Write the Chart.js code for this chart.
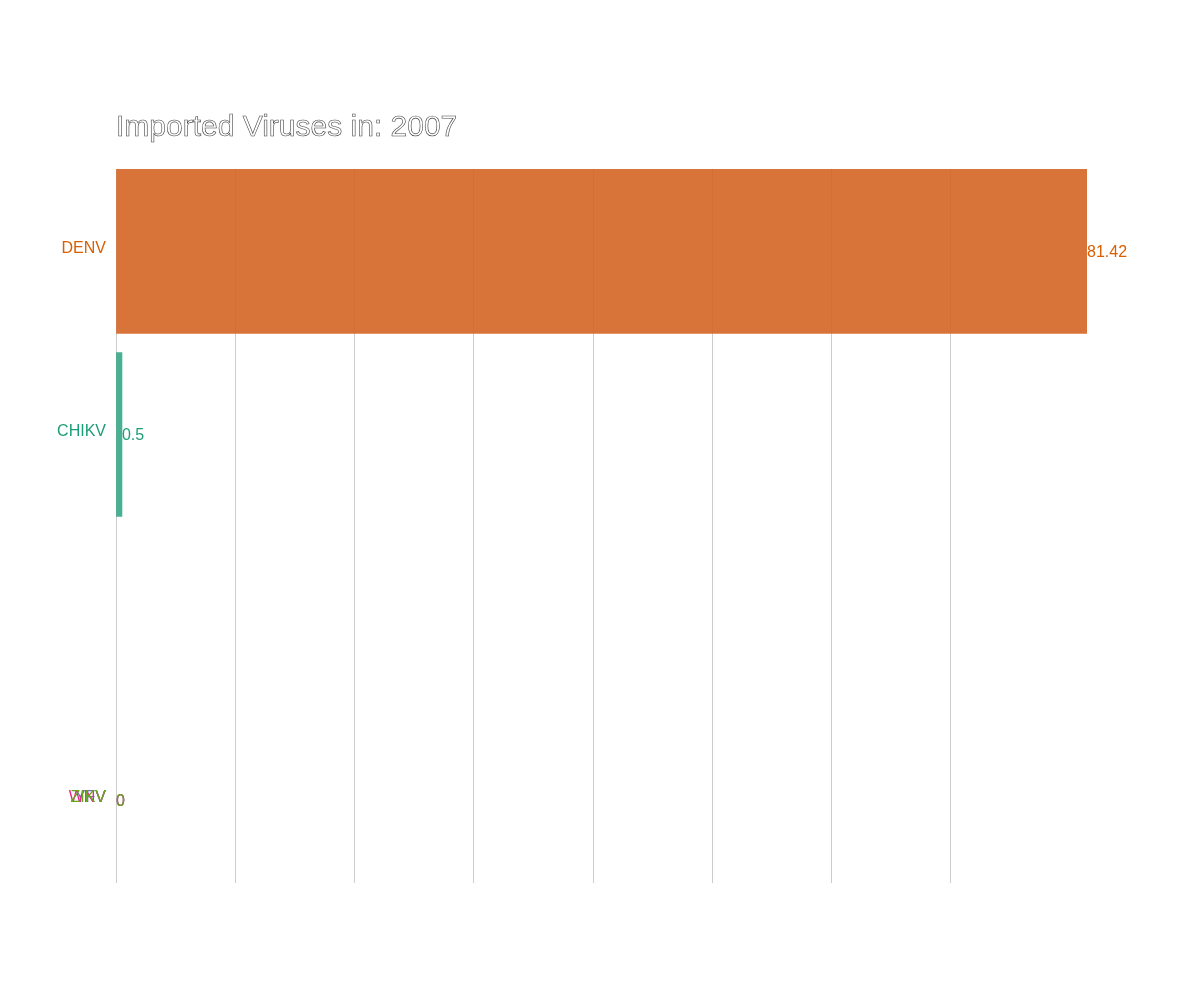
<!DOCTYPE html>
<html><head><meta charset="utf-8">
<script src="https://cdn.jsdelivr.net/npm/chart.js@4"></script>
<style>body{margin:0;background:#fff}#w{width:1200px;height:1000px}</style>
</head><body><div id="w"><canvas id="c"></canvas></div>
<script>
const categories = ["DENV","CHIKV","YFV","WNV","ZIKV"];
const values = [81.42, 0.5, 0, 0, 0];
const ranks = [1, 2, 4, 4, 4];
const colors = ["#d95f02","#1b9e77","#7570b3","#e7298a","#66a61e"];
const barColors = ["rgba(212,100,36,0.9)","rgba(27,158,119,0.8)","rgba(0,0,0,0)","rgba(0,0,0,0)","rgba(0,0,0,0)"];
const valueLabels = ["81.42","0.5","0","0","0"];
const titleText = "Imported Viruses in: 2007";

const labelPlugin = {
  id:'lbl',
  afterDatasetsDraw(chart){
    const ctx = chart.ctx, xs = chart.scales.x, ys = chart.scales.y;
    ctx.save();
    ctx.font = '16px "Liberation Sans", Arial, sans-serif';
    ctx.textBaseline = 'middle';
    categories.forEach((c,i)=>{
      const y = ys.getPixelForValue(ranks[i]);
      ctx.fillStyle = colors[i];
      ctx.textAlign = 'right';
      ctx.fillText(c, xs.left - 10, y - 3);
      ctx.textAlign = 'left';
      ctx.fillText(valueLabels[i], xs.getPixelForValue(values[i]), y + 1);
    });
    ctx.font = '30px "Liberation Sans", Arial, sans-serif';
    ctx.textBaseline = 'alphabetic';
    ctx.textAlign = 'left';
    ctx.strokeStyle = '#444'; ctx.lineWidth = 0.6;
    ctx.strokeText(titleText, xs.left, 136);
    ctx.restore();
  }
};

new Chart(document.getElementById('c'), {
  type:'bar',
  data:{datasets:[{
    data: values.map((v,i)=>({x:v, y:ranks[i]})),
    backgroundColor: barColors,
    barThickness:164, borderWidth:0
  }]},
  options:{
    indexAxis:'y', responsive:true, maintainAspectRatio:false, animation:false,
    layout:{padding:{left:108,right:113,top:169,bottom:117}},
    plugins:{legend:{display:false},tooltip:{enabled:false}},
    scales:{
      x:{type:'linear',min:0,max:81.42,ticks:{display:false,stepSize:10},
         grid:{color:(c)=> (c.tick && c.tick.value % 10 === 0) ? '#cccccc' : 'rgba(0,0,0,0)',drawTicks:false},border:{display:false}},
      y:{type:'linear',reverse:true,offset:false,min:0.55,max:4.45,ticks:{display:false},
         grid:{display:false},border:{display:false}}
    }
  },
  plugins:[labelPlugin]
});
</script></body></html>
